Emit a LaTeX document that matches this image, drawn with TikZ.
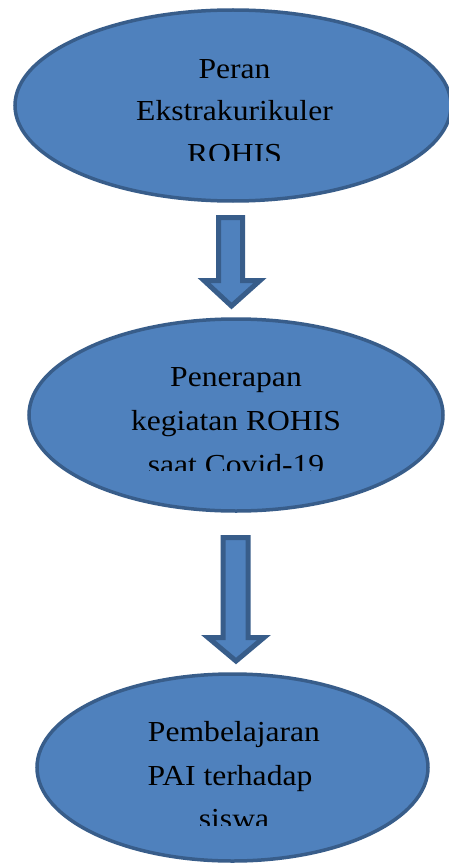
\documentclass[tikz,border=0pt]{standalone}
\usepackage{fontspec}
\setmainfont{Liberation Serif}
\newfontfamily\stretchfont[FakeStretch=1.09]{Liberation Serif}
\usetikzlibrary{shapes.geometric}
\definecolor{ofill}{HTML}{4F81BD}
\definecolor{oline}{HTML}{385D8A}
\tikzset{
  oval/.style={ellipse, draw=oline, fill=ofill, line width=3.5pt, inner sep=0pt},
  blockarrow/.style={draw=oline, fill=ofill, line width=5pt, line join=miter},
  label/.style={align=center, anchor=base, inner sep=0pt, font=\stretchfont\fontsize{29}{#1}\selectfont}
}
\begin{document}
\begin{tikzpicture}[x=1pt, y=-1pt]
\useasboundingbox (0,0) rectangle (449,864);
\fill[white] (0,0) rectangle (449,864);
% ellipses
\node[oval, minimum width=436pt, minimum height=191pt] (e1) at (233,105.5) {};
\node[oval, minimum width=414pt, minimum height=192pt] (e2) at (236,415) {};
\node[oval, minimum width=391pt, minimum height=187pt] (e3) at (232.5,767.5) {};
% texts (clipped like a text box); node base = last line's baseline
\begin{scope}
  \clip (0,40) rectangle (449,160.5);
  \node[label=42.4] (t1) at (234.5,163.1) {Peran\\Ekstrakurikuler\\ROHIS};
\end{scope}
\begin{scope}
  \clip (0,350) rectangle (449,470);
  \node[label=44] (t2) at (236,474.7) {Penerapan\\kegiatan ROHIS\\saat Covid-19};
\end{scope}
\begin{scope}
  \clip (0,700) rectangle (449,825.7);
  \node[label=43.3] (t3) at (234,828.3) {Pembelajaran\\PAI terhadap\ \mbox{}\\siswa};
\end{scope}
% block arrows
\draw[blockarrow] (218.5,217.5) -- (242.5,217.5) -- (242.5,280.5) -- (260,280.5)
  -- (231.5,306) -- (204,280.5) -- (218.5,280.5) -- cycle;
\draw[blockarrow] (223,537.5) -- (248,537.5) -- (248,637.5) -- (264,637.5)
  -- (236,661) -- (208,637.5) -- (223,637.5) -- cycle;
\end{tikzpicture}
\end{document}
